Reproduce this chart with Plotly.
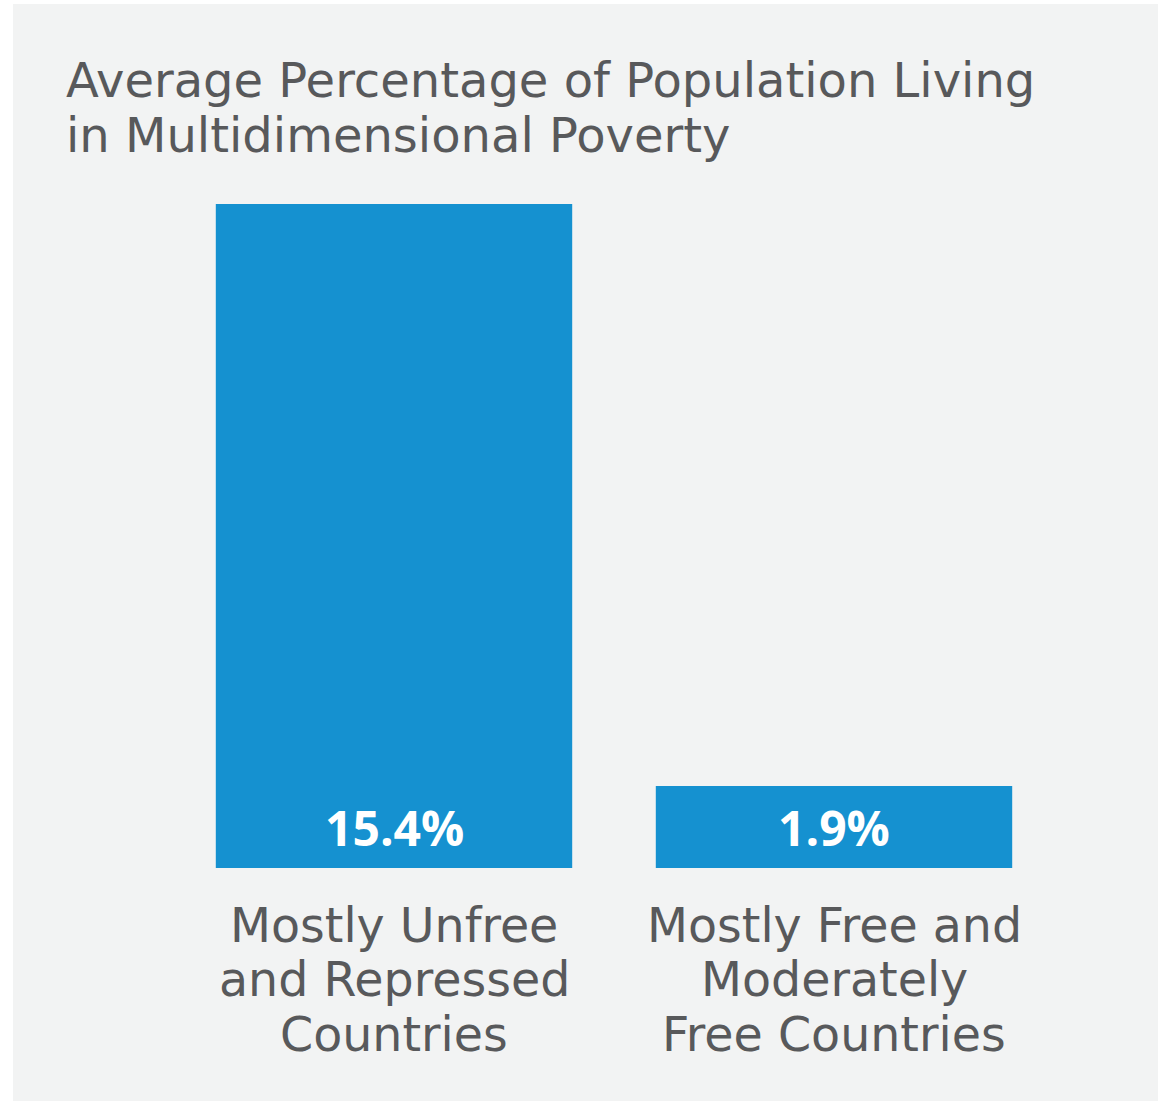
import plotly.graph_objects as go

categories = ["Mostly Unfree<br>and Repressed<br>Countries", "Mostly Free and<br>Moderately<br>Free Countries"]
values = [15.4, 1.9]
value_labels = ["15.4%", "1.9%"]
title_lines = ["Average Percentage of Population Living", "in Multidimensional Poverty"]

W, H = 1158, 1101
ML, MR, MT, MB = 174, 104, 204, 233
PW, PH = W - ML - MR, H - MT - MB

def px_x(x):
    return (x - ML) / PW

def px_y(y):
    return (H - MB - y) / PH

BLUE = "#1591d0"
GRAY_TXT = "#58595b"
PANEL = "#f2f3f3"
FONT = "DejaVu Sans"
BOLD_FONT = "Open Sans"

fig = go.Figure()
fig.add_trace(go.Bar(
    x=categories, y=values, marker=dict(color=BLUE, line=dict(width=0)),
    width=0.81, hoverinfo="skip",
))

for c, v, t in zip(categories, values, value_labels):
    fig.add_annotation(x=c, y=0, text="<b>" + t + "</b>", showarrow=False,
                       yanchor="middle", yshift=868 - 827,
                       font=dict(family=BOLD_FONT, size=48, color="white"))

# category labels, one annotation per line for exact line spacing
cat_line_mid = [925, 979, 1034]
for c in categories:
    for i, line in enumerate(c.split("<br>")):
        fig.add_annotation(x=c, xref="x", yref="paper", y=px_y(cat_line_mid[i]),
                           yanchor="middle", showarrow=False, text=line,
                           font=dict(family=FONT, size=47.5, color=GRAY_TXT))

title_mid = [80, 135]
for i, line in enumerate(title_lines):
    fig.add_annotation(xref="paper", yref="paper", x=px_x(64), y=px_y(title_mid[i]),
                       xanchor="left", yanchor="middle", align="left", showarrow=False,
                       text=line, font=dict(family=FONT, size=48, color=GRAY_TXT))

fig.add_shape(type="rect", xref="paper", yref="paper", layer="below",
              x0=px_x(13), x1=px_x(W + 5), y0=px_y(H + 5), y1=px_y(4),
              fillcolor=PANEL, line=dict(width=0))

fig.update_layout(
    width=W, height=H, margin=dict(l=ML, r=MR, t=MT, b=MB, pad=0),
    paper_bgcolor="white", plot_bgcolor="rgba(0,0,0,0)",
    showlegend=False, bargap=0.19, hovermode=False,
    font=dict(family=FONT, color=GRAY_TXT),
)
fig.update_xaxes(range=[-0.5, 1.5], showgrid=False, zeroline=False, showline=False,
                 ticks="", showticklabels=False, fixedrange=True)
fig.update_yaxes(range=[0, 15.4], visible=False, showgrid=False, zeroline=False, fixedrange=True)

fig.write_html("out.html", config={"displayModeBar": False},
               post_script="document.body.style.margin='0';")
